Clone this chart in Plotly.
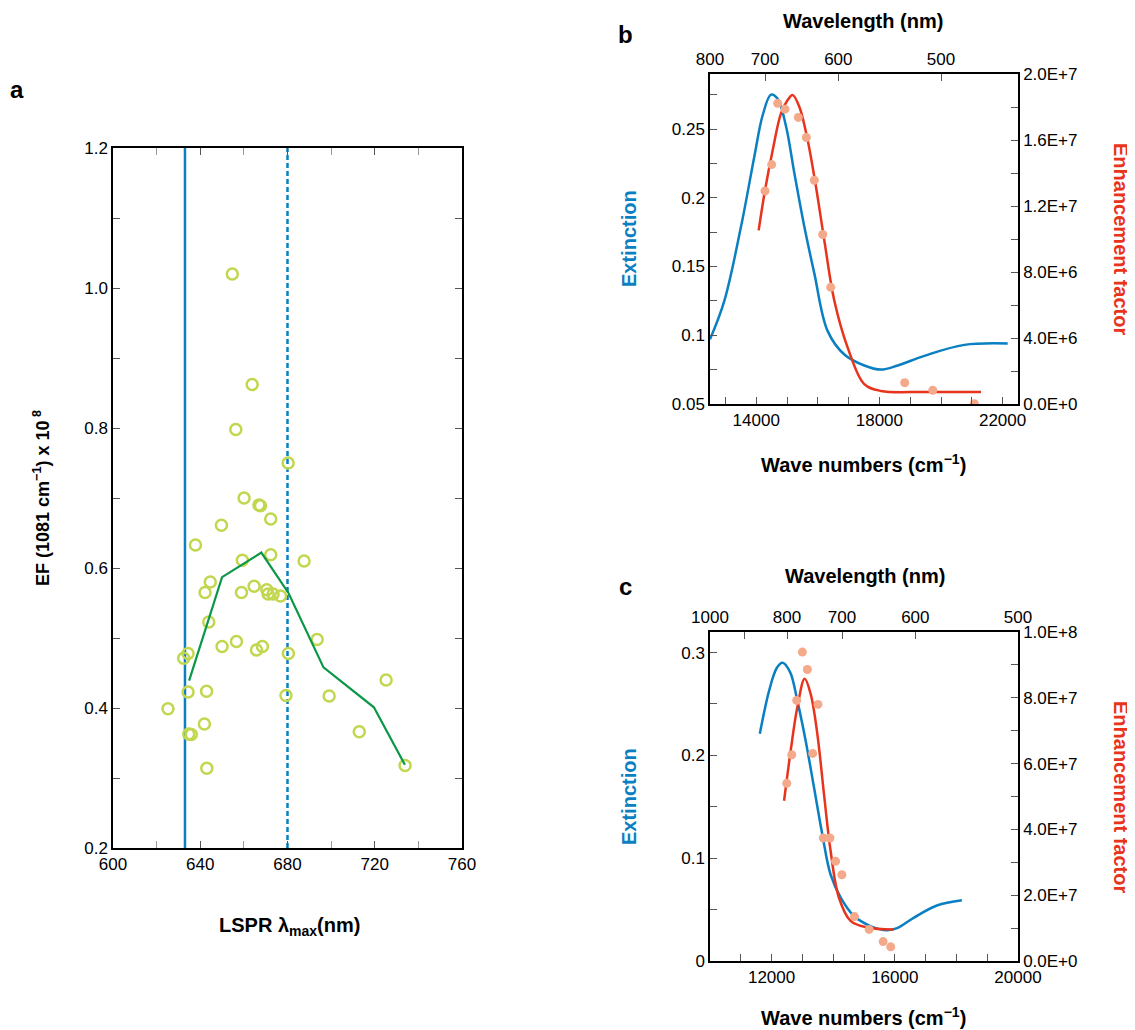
import plotly.graph_objects as go

# ---- panel a: EF vs LSPR lambda max
a_x = [654.7, 663.8, 656.3, 680.3, 660.1, 666.9, 667.6, 672.3, 649.7, 637.8, 659.3, 672.3, 687.6,
       644.6, 642.2, 658.9, 664.7, 670.5, 671.1, 673.4, 676.8, 643.9, 693.6, 656.6, 650.0, 668.5,
       665.8, 634.4, 680.4, 632.4, 634.4, 642.9, 725.2, 679.3, 699.1, 625.2, 641.9, 634.7, 635.9,
       712.9, 643.0, 733.9]
a_y = [1.020, 0.862, 0.798, 0.750, 0.700, 0.690, 0.689, 0.670, 0.661, 0.633, 0.611, 0.619, 0.610,
       0.580, 0.565, 0.565, 0.574, 0.569, 0.563, 0.563, 0.560, 0.523, 0.498, 0.495, 0.488, 0.488,
       0.483, 0.478, 0.478, 0.471, 0.423, 0.424, 0.440, 0.418, 0.417, 0.399, 0.377, 0.363, 0.362,
       0.366, 0.314, 0.318]
avg_x = [634.9, 650.0, 668.0, 680.5, 696.5, 719.6, 733.8]
avg_y = [0.439, 0.587, 0.622, 0.564, 0.458, 0.401, 0.319]
solid_line_x = 633
dashed_line_x = 680

# ---- panel b
b_ext_wn = [12500, 12965, 13507, 13940, 14210, 14480, 14697, 14968, 15238, 15562, 15887, 16320,
            16862, 17510, 18052, 18594, 19459, 20757, 22166]
b_ext = [0.097, 0.125, 0.179, 0.230, 0.260, 0.275, 0.272, 0.252, 0.218, 0.179, 0.145, 0.103,
         0.086, 0.078, 0.075, 0.078, 0.085, 0.093, 0.094]
b_fit_wn = [14080, 14286, 14535, 14805, 15022, 15184, 15400, 15671, 15942, 16212, 16537, 16970,
            17510, 18052, 19459, 21299]
b_fit = [1.052e7, 1.295e7, 1.538e7, 1.761e7, 1.842e7, 1.872e7, 1.801e7, 1.599e7, 1.315e7, 9.91e6,
         6.26e6, 3.42e6, 1.2e6, 7.9e5, 7.3e5, 7.3e5]
b_dot_wn = [14286, 14503, 14697, 14935, 15368, 15628, 15887, 16159, 16419, 18822, 19733, 21082]
b_dot = [1.291e7, 1.451e7, 1.822e7, 1.787e7, 1.737e7, 1.615e7, 1.356e7, 1.027e7, 7.07e6, 1.29e6,
         8.3e5, 2e4]

# ---- panel c
c_ext_wn = [11618, 11920, 12168, 12352, 12600, 12837, 13107, 13376, 13647, 13915, 14239, 14670,
            15210, 15750, 16074, 16611, 17368, 18178]
c_ext = [0.221, 0.263, 0.285, 0.290, 0.281, 0.253, 0.214, 0.169, 0.123, 0.084, 0.062, 0.044,
         0.034, 0.030, 0.032, 0.042, 0.054, 0.059]
c_fit_wn = [12405, 12621, 12837, 13074, 13268, 13485, 13700, 13915, 14184, 14563, 15103, 15964]
c_fit = [4.87e7, 6.40e7, 7.72e7, 8.58e7, 8.12e7, 6.90e7, 5.08e7, 3.35e7, 1.93e7, 1.22e7, 1.02e7, 9.6e6]
c_dot_wn = [12492, 12654, 12815, 12999, 13161, 13505, 13333, 13679, 13894, 14077, 14282, 14692,
            15167, 15621, 15867]
c_dot = [5.40e7, 6.27e7, 7.92e7, 9.39e7, 8.86e7, 7.80e7, 6.31e7, 3.74e7, 3.74e7, 3.03e7, 2.62e7,
         1.35e7, 9.6e6, 5.9e6, 4.3e6]

b_nm = [800, 700, 600, 500]
c_nm = [1000, 900, 800, 700, 600, 500]
c_nm_text = ["1000", "", "800", "700", "600", "500"]

BLUE = "#0a7fc1"
RED = "#e8341c"
DOT = "#f4a98a"
GREEN = "#0a9748"
LIME = "#c2d64e"
FONT = "Liberation Sans, Arial, sans-serif"

W, H = 1135, 1030
OX, OY = 7, 7  # page offset compensation

fig = go.Figure()

# panel a traces
fig.add_trace(go.Scatter(x=[solid_line_x, solid_line_x], y=[0.2, 1.2], mode="lines",
                         line=dict(color=BLUE, width=2.5), xaxis="x", yaxis="y"))
fig.add_trace(go.Scatter(x=[dashed_line_x, dashed_line_x], y=[0.2, 1.2], mode="lines",
                         line=dict(color=BLUE, width=2.5, dash="5px,3px"), xaxis="x", yaxis="y"))
fig.add_trace(go.Scatter(x=a_x, y=a_y, mode="markers", xaxis="x", yaxis="y",
                         marker=dict(symbol="circle-open", size=11, color=LIME, line=dict(width=2.5))))
fig.add_trace(go.Scatter(x=avg_x, y=avg_y, mode="lines", line=dict(color=GREEN, width=2.2),
                         xaxis="x", yaxis="y"))

# panel b traces
fig.add_trace(go.Scatter(x=b_ext_wn, y=b_ext, mode="lines", line=dict(color=BLUE, width=2.5, shape="spline"),
                         xaxis="x2", yaxis="y2"))
fig.add_trace(go.Scatter(x=b_fit_wn, y=b_fit, mode="lines", line=dict(color=RED, width=2.5, shape="spline"),
                         xaxis="x2", yaxis="y3"))
fig.add_trace(go.Scatter(x=b_dot_wn, y=b_dot, mode="markers", marker=dict(color=DOT, size=9),
                         xaxis="x2", yaxis="y3"))
fig.add_trace(go.Scatter(x=[15000], y=[0.1], mode="markers", marker=dict(opacity=0),
                         xaxis="x3", yaxis="y2", hoverinfo="skip"))

# panel c traces
fig.add_trace(go.Scatter(x=c_ext_wn, y=c_ext, mode="lines", line=dict(color=BLUE, width=2.5, shape="spline"),
                         xaxis="x4", yaxis="y4"))
fig.add_trace(go.Scatter(x=c_fit_wn, y=c_fit, mode="lines", line=dict(color=RED, width=2.5, shape="spline"),
                         xaxis="x4", yaxis="y5"))
fig.add_trace(go.Scatter(x=c_dot_wn, y=c_dot, mode="markers", marker=dict(color=DOT, size=9),
                         xaxis="x4", yaxis="y5"))
fig.add_trace(go.Scatter(x=[15000], y=[0.1], mode="markers", marker=dict(opacity=0),
                         xaxis="x5", yaxis="y4", hoverinfo="skip"))

ax = dict(showline=True, linecolor="black", linewidth=1.5, ticks="inside", ticklen=7,
          tickcolor="#555", showgrid=False, zeroline=False, automargin=False,
          tickfont=dict(size=17, color="black"))


def dx(a, b):
    return [(a - OX) / W, (b - OX) / W]


def dy(top, bottom):
    return [1 - (bottom - OY) / H, 1 - (top - OY) / H]


dxa = dx(112, 461)
dya = dy(147, 847)
dxb = dx(709, 1017)
dyb = dy(73, 403)
dyc = dy(631, 960)
mnr = dict(ticks="inside", ticklen=7, tickcolor="#555")

fig.update_layout(
    width=W, height=H, margin=dict(l=0, r=0, t=0, b=0),
    paper_bgcolor="white", plot_bgcolor="white", showlegend=False,
    font=dict(family=FONT, size=16, color="black"),
    xaxis=dict(**ax, domain=dxa, anchor="y", range=[600, 760], dtick=40, mirror="allticks",
               minor=dict(dtick=20, ticks="inside", ticklen=7, tickcolor="#999")),
    yaxis=dict(**ax, domain=dya, anchor="x", range=[0.2, 1.2], dtick=0.2, tickformat=".1f",
               mirror="allticks", minor=dict(dtick=0.1, **mnr)),
    xaxis2=dict(**ax, domain=dxb, anchor="y2", range=[12500, 22500],
                tickvals=[14000, 16000, 18000, 20000, 22000], ticktext=["14000", "", "18000", "", "22000"],
                minor=dict(dtick=1000, **mnr)),
    xaxis3=dict(**ax, overlaying="x2", anchor="y2", side="top", range=[12500, 22500],
                tickvals=[1e7 / v for v in b_nm], ticktext=[str(v) for v in b_nm]),
    yaxis2=dict(**ax, domain=dyb, anchor="x2", range=[0.05, 0.29],
                tickvals=[0.05, 0.1, 0.15, 0.2, 0.25], ticktext=["0.05", "0.1", "0.15", "0.2", "0.25"],
                minor=dict(dtick=0.025, tick0=0.05, **mnr)),
    yaxis3=dict(**ax, overlaying="y2", anchor="x2", side="right", range=[0, 2e7],
                tickvals=[0, 4e6, 8e6, 1.2e7, 1.6e7, 2e7],
                ticktext=["0.0E+0", "4.0E+6", "8.0E+6", "1.2E+7", "1.6E+7", "2.0E+7"],
                minor=dict(dtick=2e6, **mnr)),
    xaxis4=dict(**ax, domain=dxb, anchor="y4", range=[10000, 20000],
                tickvals=[12000, 14000, 16000, 18000, 20000], ticktext=["12000", "", "16000", "", "20000"],
                minor=dict(dtick=1000, **mnr)),
    xaxis5=dict(**ax, overlaying="x4", anchor="y4", side="top", range=[10000, 20000],
                tickvals=[1e7 / v for v in c_nm], ticktext=c_nm_text),
    yaxis4=dict(**ax, domain=dyc, anchor="x4", range=[0, 0.32],
                tickvals=[0, 0.1, 0.2, 0.3], ticktext=["0", "0.1", "0.2", "0.3"],
                minor=dict(dtick=0.05, **mnr)),
    yaxis5=dict(**ax, overlaying="y4", anchor="x4", side="right", range=[0, 1e8],
                tickvals=[0, 2e7, 4e7, 6e7, 8e7, 1e8],
                ticktext=["0.0E+0", "2.0E+7", "4.0E+7", "6.0E+7", "8.0E+7", "1.0E+8"],
                minor=dict(dtick=1e7, **mnr)),
)


def txt(x, y, s, size=18, color="black", angle=0):
    fig.add_annotation(x=(x - OX) / W, y=1 - (y - OY) / H, xref="paper", yref="paper", text=s,
                       xanchor="center", yanchor="middle",
                       showarrow=False, textangle=angle, font=dict(size=size, color=color, family=FONT))


txt(16, 88, "<b>a</b>", 24)
txt(625, 34, "<b>b</b>", 24)
txt(625, 585, "<b>c</b>", 24)
txt(40, 497, "<b>EF (1081 cm<sup>−1</sup>) x 10<sup> 8</sup></b>", 18, angle=-90)
txt(288, 925, "<b>LSPR λ<sub>max</sub>(nm)</b>", 20)
txt(862, 20, "<b>Wavelength (nm)</b>", 20)
txt(862, 462, "<b>Wave numbers (cm<sup>−1</sup>)</b>", 20)
txt(628, 238, "<b>Extinction</b>", 20, BLUE, -90)
txt(1120, 238, "<b>Enhancement factor</b>", 20, RED, 90)
txt(864, 575, "<b>Wavelength (nm)</b>", 20)
txt(862, 1015, "<b>Wave numbers (cm<sup>−1</sup>)</b>", 20)
txt(628, 796, "<b>Extinction</b>", 20, BLUE, -90)
txt(1120, 796, "<b>Enhancement factor</b>", 20, RED, 90)

fig.write_html("out.html")
